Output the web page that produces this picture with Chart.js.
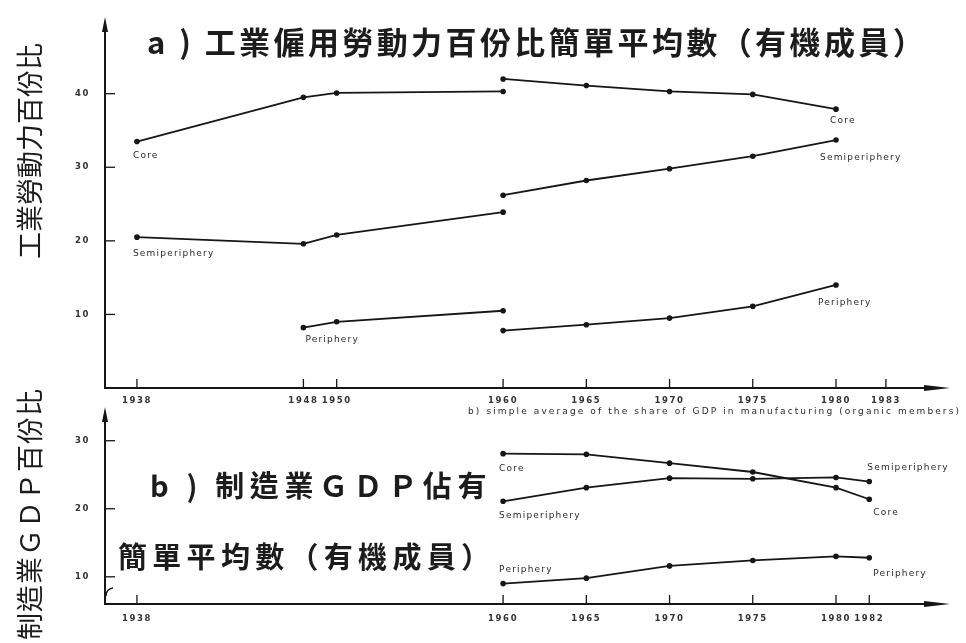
<!DOCTYPE html>
<html>
<head>
<meta charset="utf-8">
<script src="https://cdn.jsdelivr.net/npm/chart.js@4.4.1/dist/chart.umd.min.js"></script>
<style>
  html, body { margin: 0; padding: 0; background: #fff; }
  body { width: 966px; height: 643px; overflow: hidden; position: relative; font-family: "Noto Sans CJK TC", "Noto Sans CJK SC", sans-serif; color: #1c1c1c; }
  canvas { position: absolute; left: 0; }
  #chartLabour { top: 0; }
  #chartGdp { top: 390px; }
  .txt { position: absolute; white-space: nowrap; line-height: 1; }
  .titleA { left: 147px; top: 25px; font-size: 31px; font-weight: 700; letter-spacing: 3.4px; }
  .titleB1 { left: 150px; top: 470px; font-size: 29px; font-weight: 700; letter-spacing: 5.6px; }
  .titleB2 { left: 118px; top: 541px; font-size: 29px; font-weight: 700; letter-spacing: 5.3px; }
  .vlabel { font-size: 27px; font-weight: 400; transform: translate(-50%, -50%) rotate(-90deg); }
  .vA { left: 28px; top: 151px; letter-spacing: 0px; }
  .vB { left: 28px; top: 514px; letter-spacing: 1px; }
  .caption { left: 468px; top: 407px; font-family: "DejaVu Sans", sans-serif; font-size: 9px; color: #2a2a2a; }
</style>
</head>
<body>
<canvas id="chartLabour" width="966" height="420"></canvas>
<canvas id="chartGdp" width="966" height="253"></canvas>

<div class="txt titleA">a ) 工業僱用勞動力百份比簡單平均數（有機成員）</div>
<div class="txt titleB1">b ) 制造業ＧＤＰ佔有</div>
<div class="txt titleB2">簡單平均數（有機成員）</div>
<div class="txt vlabel vA">工業勞動力百份比</div>
<div class="txt vlabel vB">制造業ＧＤＰ百份比</div>
<div class="txt caption" id="caption">b) simple average of the share of GDP in manufacturing (organic members)</div>

<script>
// (a) share of labour force employed in industry, %
const yearsEarly = [1938, 1948, 1950, 1960];
const yearsLate = [1960, 1965, 1970, 1975, 1980];
const periYearsEarly = [1948, 1950, 1960];
const coreEarly = [33.5, 39.5, 40.1, 40.3];
const coreLate = [42.0, 41.1, 40.3, 39.9, 37.9];
const semiEarly = [20.5, 19.6, 20.8, 23.9];
const semiLate = [26.2, 28.2, 29.8, 31.5, 33.7];
const periEarly = [8.2, 9.0, 10.5];
const periLate = [7.8, 8.6, 9.5, 11.1, 14.0];
const labourYearTicks = [1938, 1948, 1950, 1960, 1965, 1970, 1975, 1980, 1983];
const labourValueTicks = [10, 20, 30, 40];

// (b) share of GDP in manufacturing, %
const gdpYears = [1960, 1965, 1970, 1975, 1980, 1982];
const coreGdp = [28.1, 28.0, 26.7, 25.4, 23.1, 21.4];
const semiGdp = [21.1, 23.1, 24.5, 24.4, 24.6, 24.0];
const periGdp = [9.0, 9.8, 11.6, 12.4, 13.0, 12.8];
const gdpYearTicks = [1938, 1960, 1965, 1970, 1975, 1980, 1982];
const gdpValueTicks = [10, 20, 30];

const CORE = 'Core', SEMI = 'Semiperiphery', PERI = 'Periphery';

const INK = '#161616';
const TICK_FONT = { family: 'DejaVu Sans', size: 8.5, weight: 'bold' };

function pairs(xs, ys) { return xs.map((x, i) => ({ x, y: ys[i] })); }

function series(label, xs, ys, tags) {
  return {
    label, data: pairs(xs, ys), tags: tags || [],
    borderColor: INK, borderWidth: 1.8, tension: 0,
    pointRadius: 2.8, pointBackgroundColor: INK, pointBorderWidth: 0,
    pointHoverRadius: 2.8
  };
}

// Axis lines with arrowheads, inward tick marks, optional axis break
const axesPlugin = {
  id: 'axesPlugin',
  afterDraw(chart, args, opts) {
    const { ctx, chartArea: a, scales } = chart;
    ctx.save();
    ctx.strokeStyle = INK; ctx.fillStyle = INK; ctx.lineWidth = 2;
    // y axis
    ctx.beginPath(); ctx.moveTo(a.left, a.bottom + 1); ctx.lineTo(a.left, a.top + 6); ctx.stroke();
    ctx.beginPath(); ctx.moveTo(a.left, a.top - 3); ctx.lineTo(a.left - 3, a.top + 12); ctx.lineTo(a.left + 3, a.top + 12); ctx.closePath(); ctx.fill();
    // x axis
    ctx.beginPath(); ctx.moveTo(a.left - 1, a.bottom); ctx.lineTo(a.right - 10, a.bottom); ctx.stroke();
    ctx.beginPath(); ctx.moveTo(a.right + 2, a.bottom); ctx.lineTo(a.right - 24, a.bottom - 3); ctx.lineTo(a.right - 24, a.bottom + 3); ctx.closePath(); ctx.fill();
    // inward ticks
    ctx.lineWidth = 1.3;
    scales.y.ticks.forEach(t => {
      const py = scales.y.getPixelForValue(t.value);
      ctx.beginPath(); ctx.moveTo(a.left, py); ctx.lineTo(a.left + 10, py); ctx.stroke();
    });
    scales.x.ticks.forEach(t => {
      const px = scales.x.getPixelForValue(t.value);
      ctx.beginPath(); ctx.moveTo(px, a.bottom); ctx.lineTo(px, a.bottom - 9); ctx.stroke();
    });
    if (opts.axisBreak) {
      ctx.lineWidth = 1.4;
      ctx.beginPath();
      ctx.moveTo(a.left + 1, a.bottom - 8);
      ctx.quadraticCurveTo(a.left + 1, a.bottom - 15, a.left + 8, a.bottom - 16);
      ctx.stroke();
    }
    ctx.restore();
  }
};

// Series names written next to chosen points
const tagPlugin = {
  id: 'tagPlugin',
  afterDatasetsDraw(chart) {
    const { ctx } = chart;
    ctx.save();
    ctx.font = '9px "DejaVu Sans"';
    ctx.letterSpacing = '1.2px';
    ctx.fillStyle = '#2a2a2a';
    ctx.textAlign = 'left';
    ctx.textBaseline = 'middle';
    chart.data.datasets.forEach((ds, di) => {
      const meta = chart.getDatasetMeta(di);
      (ds.tags || []).forEach(t => {
        const pt = meta.data[t.i];
        if (pt) ctx.fillText(ds.label, pt.x + t.dx, pt.y + t.dy);
      });
    });
    ctx.restore();
  }
};

// spread tick labels a little, as in the printed figure
const spacingPlugin = {
  id: 'spacingPlugin',
  beforeDraw(chart) { chart.ctx.letterSpacing = '1.6px'; },
  afterDraw(chart) { chart.ctx.letterSpacing = '0px'; }
};

function scalesFor(xmin, xmax, ymin, ymax, xTicks, yTicks, xHeight, xPad) {
  return {
    x: {
      type: 'linear', min: xmin, max: xmax,
      afterFit(s) { s.height = xHeight; },
      afterBuildTicks(s) { s.ticks = xTicks.map(v => ({ value: v })); },
      grid: { display: false, drawTicks: false }, border: { display: false },
      ticks: { padding: xPad, autoSkip: false, maxRotation: 0, color: '#333', font: TICK_FONT, callback: v => String(v) }
    },
    y: {
      type: 'linear', min: ymin, max: ymax,
      afterFit(s) { s.width = 105; },
      afterBuildTicks(s) { s.ticks = yTicks.map(v => ({ value: v })); },
      grid: { display: false, drawTicks: false }, border: { display: false },
      ticks: { padding: 15, color: '#333', font: TICK_FONT, callback: v => String(v) }
    }
  };
}

const common = {
  responsive: false, animation: false, devicePixelRatio: 1,
  events: [],
  plugins: { legend: { display: false }, tooltip: { enabled: false } }
};

new Chart(document.getElementById('chartLabour'), {
  type: 'line',
  data: {
    datasets: [
      series(CORE, yearsEarly, coreEarly, [{ i: 0, dx: -4, dy: 14 }]),
      series(CORE, yearsLate, coreLate, [{ i: 4, dx: -6, dy: 12 }]),
      series(SEMI, yearsEarly, semiEarly, [{ i: 0, dx: -4, dy: 16 }]),
      series(SEMI, yearsLate, semiLate, [{ i: 4, dx: -16, dy: 18 }]),
      series(PERI, periYearsEarly, periEarly, [{ i: 0, dx: 2, dy: 12 }]),
      series(PERI, yearsLate, periLate, [{ i: 4, dx: -18, dy: 18 }])
    ]
  },
  options: Object.assign({}, common, {
    layout: { padding: { left: 0, right: 18, top: 15, bottom: 0 } },
    scales: scalesFor(1936.08, 1986.73, 0, 50, labourYearTicks, labourValueTicks, 32, 8),
    plugins: Object.assign({}, common.plugins, { axesPlugin: { axisBreak: false } })
  }),
  plugins: [spacingPlugin, axesPlugin, tagPlugin]
});

new Chart(document.getElementById('chartGdp'), {
  type: 'line',
  data: {
    datasets: [
      series(CORE, gdpYears, coreGdp, [{ i: 0, dx: -4, dy: 15 }, { i: 5, dx: 4, dy: 13 }]),
      series(SEMI, gdpYears, semiGdp, [{ i: 0, dx: -4, dy: 14 }, { i: 5, dx: -2, dy: -14 }]),
      series(PERI, gdpYears, periGdp, [{ i: 0, dx: -4, dy: -14 }, { i: 5, dx: 4, dy: 16 }])
    ]
  },
  options: Object.assign({}, common, {
    layout: { padding: { left: 0, right: 18, top: 5, bottom: 0 } },
    scales: scalesFor(1936.08, 1986.73, 6, 34.5, gdpYearTicks, gdpValueTicks, 39, 10),
    plugins: Object.assign({}, common.plugins, { axesPlugin: { axisBreak: true } })
  }),
  plugins: [spacingPlugin, axesPlugin, tagPlugin]
});

// stretch the caption to its printed width
(function () {
  const el = document.getElementById('caption');
  const target = 493;
  const n = el.textContent.length;
  const w = el.getBoundingClientRect().width;
  el.style.letterSpacing = ((target - w) / n).toFixed(2) + 'px';
})();
</script>
</body>
</html>
